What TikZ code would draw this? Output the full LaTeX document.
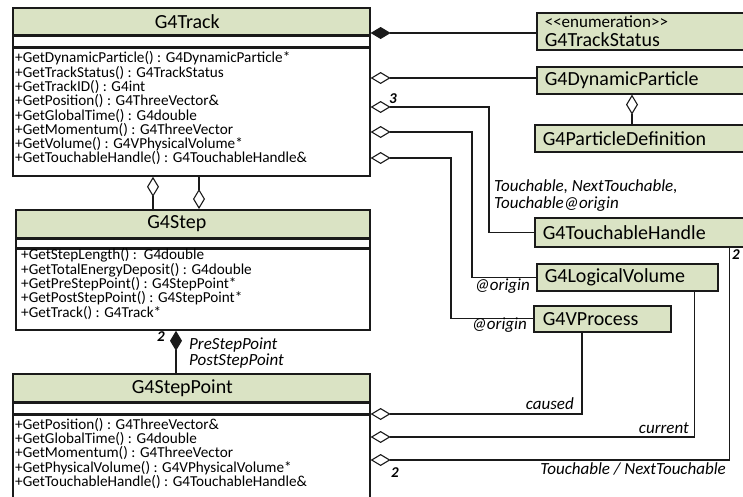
\documentclass[tikz,border=0pt]{standalone}
\usepackage{fontspec}
\setmainfont{Carlito}
\usetikzlibrary{calc,positioning,arrows.meta}

\definecolor{umlGreen}{HTML}{DAE3C4}
\definecolor{umlLine}{HTML}{1A1A1A}

\tikzset{
  hdr/.style={draw=umlLine, line width=1.6pt, fill=umlGreen, inner sep=0pt, font=\fontsize{20}{22}\selectfont},
  cmp/.style={draw=umlLine, line width=1.6pt, inner sep=0pt},
  ops/.style={anchor=north west, inner sep=0pt, align=left, font=\fontsize{15.2}{14.3}\selectfont},
  cls/.style={draw=umlLine, line width=1.6pt, fill=umlGreen, anchor=north west, inner xsep=8pt, inner ysep=0pt, align=left, font=\fontsize{20}{22}\selectfont},
  link/.style={draw=umlLine, line width=1.1pt},
  agg/.style={link, {Diamond[open, length=20pt, width=12pt]}-},
  comp/.style={link, {Diamond[length=20pt, width=12pt]}-},
  role/.style={inner sep=0pt, font=\fontsize{17}{17}\selectfont\itshape},
  mult/.style={inner sep=0pt, font=\fontsize{15}{15}\selectfont\bfseries\itshape},
}

\begin{document}
\begin{tikzpicture}[x=1pt, y=-1pt]
  \useasboundingbox (0,0) rectangle (743,496);

  % G4Track
  \node[hdr, minimum width=357pt, minimum height=27pt, anchor=north west] (trk) at (12,7) {\hspace*{-8pt}G4Track};
  \node[cmp, minimum width=357pt, minimum height=10pt, below=0pt of trk] (trkattr) {};
  \node[cmp, minimum width=357pt, minimum height=128pt, below=0pt of trkattr] (trkbox) {};
  \node[ops] (trkops) at (15,51.5) {+GetDynamicParticle() : G4DynamicParticle*\\
    +GetTrackStatus() : G4TrackStatus\\
    +GetTrackID() : G4int\\
    +GetPosition() : G4ThreeVector\&\\
    +GetGlobalTime() : G4double\\
    +GetMomentum() : G4ThreeVector\\
    +GetVolume() : G4VPhysicalVolume*\\
    +GetTouchableHandle() : G4TouchableHandle\&};

  % G4Step
  \node[hdr, minimum width=354pt, minimum height=28pt, anchor=north west] (stp) at (15,209) {\hspace*{-32pt}G4Step};
  \node[cmp, minimum width=354pt, minimum height=8pt, below=0pt of stp] (stpattr) {};
  \node[cmp, minimum width=354pt, minimum height=81pt, below=0pt of stpattr] (stpbox) {};
  \node[ops] (stpops) at (21,248.5) {+GetStepLength() :\ \ G4double\\
    +GetTotalEnergyDeposit() : G4double\\
    +GetPreStepPoint() : G4StepPoint*\\
    +GetPostStepPoint() : G4StepPoint*\\
    +GetTrack() : G4Track*};

  % G4StepPoint
  \node[hdr, minimum width=357pt, minimum height=28pt, anchor=north west] (sp) at (12,373) {\hspace*{-18pt}G4StepPoint};
  \node[cmp, minimum width=357pt, minimum height=10pt, below=0pt of sp] (spattr) {};
  \node[cmp, minimum width=357pt, minimum height=110pt, below=0pt of spattr] (spbox) {};
  \node[ops] (spops) at (15,418) {+GetPosition() : G4ThreeVector\&\\
    +GetGlobalTime() : G4double\\
    +GetMomentum() : G4ThreeVector\\
    +GetPhysicalVolume() : G4VPhysicalVolume*\\
    +GetTouchableHandle() : G4TouchableHandle\&};

  % classes on the right
  \node[cls, minimum width=215pt, minimum height=37pt, text width=199pt, font=\fontsize{20}{18.5}\selectfont] (ts) at (536,12)
    {{\fontsize{17}{17}\selectfont<\kern0pt<enumeration>\kern0pt>}\\G4TrackStatus};
  \node[cls, minimum width=215pt, minimum height=27pt, text width=199pt] (dp) at (536,66) {G4DynamicParticle};
  \node[cls, minimum width=217pt, minimum height=27pt, text width=201pt] (pd) at (534,124) {G4ParticleDefinition};
  \node[cls, minimum width=217pt, minimum height=29pt, text width=201pt, inner xsep=6pt] (th) at (534,217) {G4TouchableHandle};
  \node[cls, minimum width=181pt, minimum height=27pt, text width=165pt] (lv) at (536,263) {G4LogicalVolume};
  \node[cls, minimum width=137pt, minimum height=26pt, text width=119pt, inner xsep=9pt] (vp) at (533,305) {G4VProcess};

  % attachment points
  \coordinate (trkR1) at (trk.east |- 0,33);
  \coordinate (trkR2) at (trkbox.east |- 0,78);
  \coordinate (trkR3) at (trkbox.east |- 0,107);
  \coordinate (trkR4) at (trkbox.east |- 0,132);
  \coordinate (trkR5) at (trkbox.east |- 0,158);
  \coordinate (spR1) at (spbox.east |- 0,414);
  \coordinate (spR2) at (spbox.east |- 0,437);
  \coordinate (spR3) at (spbox.east |- 0,460);

  % G4Track associations
  \draw[comp] (trkR1) -- (trkR1 -| ts.west);
  \draw[agg] (trkR2) -- (trkR2 -| dp.west);
  \draw[agg] (trkR3) -| ($(th.west)+(-45,0)$) -- (th.west);
  \draw[agg] (trkR4) -| ($(lv.west)+(-64,0)$) -- (lv.west);
  \draw[agg] (trkR5) -| ($(vp.west)+(-82,0)$) -- (vp.west);
  \draw[agg] (dp.south -| 632,0) -- (pd.north -| 632,0);

  \node[mult, anchor=west] (m3) at (389,99) {3};
  \node[role, anchor=north west, align=left, font=\fontsize{17}{17}\selectfont\itshape] (throle) at (494,179)
    {Touchable, NextTouchable,\\Touchable@origin};
  \node[role, anchor=east] (lvrole) at (530,286) {@origin};
  \node[role, anchor=east] (vprole) at (527,325) {@origin};

  % G4Track -- G4Step
  \draw[agg] (trkbox.south -| 153,0) -- (stp.north -| 153,0);
  \draw[agg] (stp.north -| 199,0) -- (trkbox.south -| 199,0);

  % G4Step -- G4StepPoint
  \draw[comp] (stpbox.south -| 176,0) -- (sp.north -| 176,0);
  \node[mult] (m2a) at (161,337) {2};
  \node[role, anchor=west, align=left, font=\fontsize{17}{16}\selectfont\itshape] (sprole) at (189,353)
    {PreStepPoint\\PostStepPoint};

  % G4StepPoint associations
  \draw[agg] (spR1) -| ($(vp.south west)+(49,0)$);
  \draw[agg] (spR2) -| ($(lv.south east)+(-24,0)$);
  \draw[agg] (spR3) -| ($(th.south east)+(-23,0)$);

  \node[role, anchor=east] (caused) at (574,404) {caused};
  \node[role, anchor=east] (current) at (689,428) {current};
  \node[role, anchor=east] (threl) at (726,469) {Touchable / NextTouchable};
  \node[mult] (m2b) at (395,473) {2};
  \node[mult] (m2c) at (736,255) {2};
\end{tikzpicture}
\end{document}
